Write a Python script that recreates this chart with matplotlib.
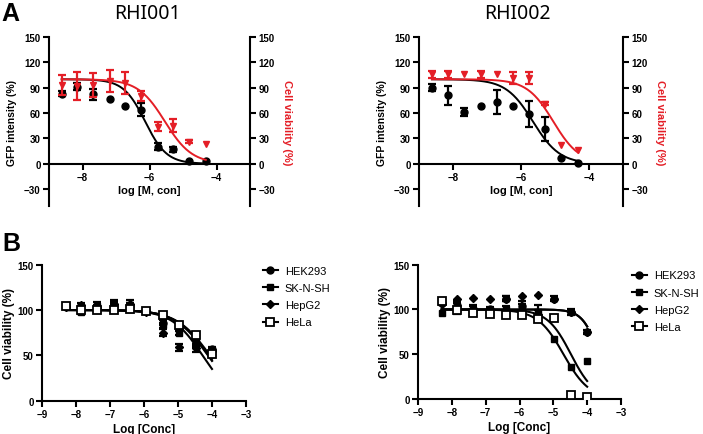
import numpy as np
import matplotlib
matplotlib.use("Agg")
import matplotlib.pyplot as plt
from matplotlib.lines import Line2D

plt.rcParams['font.family'] = ['Liberation Sans', 'DejaVu Sans']
plt.rcParams['font.weight'] = 'bold'
plt.rcParams['axes.labelweight'] = 'bold'

RED = '#e41e26'

# panel A: log concentration (3-fold dilution series)
x_a = np.array([-8.62, -8.15, -7.68, -7.19, -6.72, -6.24, -5.76, -5.29, -4.81, -4.32])

gfp_001 = np.array([83, 91, 82, 77, 68, 64, 20, 17, 3, 3])
gfp_001_err = np.array([3, 4, 6, 0, 0, 8, 4, 3, 0, 0])
via_001 = np.array([93, 92, 93, 98, 95, 80, 44, 45, 26, 23])
via_001_err = np.array([12, 16, 14, 13, 13, 6, 5, 8, 2, 0])

gfp_002 = np.array([90, 81, 61, 68, 73, 68, 59, 41, 7, 1])
gfp_002_err = np.array([4, 11, 5, 0, 14, 0, 15, 14, 0, 0])
via_002 = np.array([106, 106, 106, 106, 106, 101, 101, 71, 22, 16])
via_002_err = np.array([4, 4, 0, 4, 0, 7, 7, 2, 0, 0])

# fitted curves: top, bottom, logIC50, hill slope
fit_gfp_001 = (100, 0, -6.13, 1.35)
fit_via_001 = (100, 0, -5.54, 1.08)
fit_gfp_002 = (100, 0, -5.65, 1.1)
fit_via_002 = (100, 0, -5.05, 1.13)

# panel B
x_b = np.array([-8.30, -7.84, -7.37, -6.88, -6.40, -5.93, -5.44, -4.97, -4.48, -4.00])
cells = ['HEK293', 'SK-N-SH', 'HepG2', 'HeLa']

b1_vals = {
    'HEK293': [105, 100, 103, 104, 104, 99, 86, 80, 63, 57],
    'SK-N-SH': [104, 98, 105, 104, 103, 99, 83, 75, 65, 52],
    'HepG2': [103, 106, 101, 107, 107, 98, 75, 59, 58, 55],
    'HeLa': [104, 100, 100, 100, 101, 99, 94, 84, 72, 51],
}
b1_err = {
    'HEK293': [2, 2, 3, 3, 4, 2, 3, 3, 4, 2],
    'SK-N-SH': [3, 2, 4, 5, 5, 2, 3, 3, 4, 2],
    'HepG2': [2, 2, 4, 4, 4, 2, 4, 4, 4, 2],
    'HeLa': [2, 2, 2, 3, 3, 2, 2, 2, 3, 3],
}
b1_fit = {
    'HEK293': (100, 0, -4.06, 0.88),
    'SK-N-SH': (100, 0, -4.10, 0.9),
    'HepG2': (100, 0, -4.28, 0.96),
    'HeLa': (100, 0, -4.12, 0.9),
}

b2_vals = {
    'HEK293': [107, 105, 101, 100, 112, 104, 94, 112, 97, 75],
    'SK-N-SH': [96, 101, 99, 97, 100, 102, 97, 67, 36, 42],
    'HepG2': [106, 112, 113, 112, 112, 115, 116, 112, 97, 75],
    'HeLa': [110, 99, 96, 95, 94, 94, 89, 90, 4, 2],
}
b2_err = {
    'HEK293': [2, 4, 4, 3, 3, 5, 5, 3, 3, 2],
    'SK-N-SH': [0, 6, 5, 4, 4, 4, 8, 0, 0, 0],
    'HepG2': [0, 0, 0, 0, 3, 0, 0, 0, 0, 0],
    'HeLa': [0, 0, 0, 0, 0, 0, 0, 0, 0, 0],
}
b2_fit = {
    'HEK293': (100, 0, -3.65, 1.8),
    'SK-N-SH': (100, 0, -4.70, 1.14),
    'HepG2': (100, 0, -3.65, 1.8),
    'HeLa': (100, 0, -4.48, 1.25),
}

markers = {
    'HEK293': dict(marker='o', ms=5, mfc='black'),
    'SK-N-SH': dict(marker='s', ms=5, mfc='black'),
    'HepG2': dict(marker='D', ms=4, mfc='black'),
    'HeLa': dict(marker='s', ms=6, mfc='white', mew=1.3),
}


def hill(x, top, bottom, logic50, slope):
    return bottom + (top - bottom) / (1 + 10 ** ((x - logic50) * slope))


def points(ax, x, y, err, color, **kw):
    x = np.asarray(x); y = np.asarray(y); err = np.asarray(err)
    m = err > 0
    ax.errorbar(x[m], y[m], yerr=err[m], fmt='none', ecolor=color,
                elinewidth=1.6, capsize=3, capthick=1.6, zorder=3)
    ax.plot(x, y, ls='none', color=color, mec=color, zorder=4, **kw)


def style_ticks(ax):
    ax.tick_params(direction='out', length=4, width=1.5, labelsize=7, pad=2)


def panel_a(rect, title, title_x, gfp, gfp_err, via, via_err, fit_g, fit_v):
    ax = fig.add_axes(rect)
    ax2 = ax.twinx()
    xs = np.linspace(x_a.min(), x_a.max(), 200)

    ax.plot(xs, hill(xs, *fit_g), color='black', lw=1.4, zorder=2)
    points(ax, x_a, gfp, gfp_err, 'black', marker='o', ms=5)
    ax2.plot(xs, hill(xs, *fit_v), color=RED, lw=1.4, zorder=2)
    points(ax2, x_a, via, via_err, RED, marker='v', ms=5)

    for a in (ax, ax2):
        a.set_xlim(-9, -3)
        a.set_ylim(-50, 150)
        a.set_yticks([-30, 0, 30, 60, 90, 120, 150])
        a.spines['top'].set_visible(False)
        style_ticks(a)
    ax.set_xticks([-8, -6, -4])
    ax.spines['right'].set_visible(False)
    ax.spines['bottom'].set_position(('data', 0))
    ax.spines['left'].set_linewidth(1.5)
    ax.spines['bottom'].set_linewidth(1.5)
    ax2.spines['left'].set_visible(False)
    ax2.spines['bottom'].set_visible(False)
    ax2.spines['right'].set_linewidth(1.5)
    ax.set_xlabel('log [M, con]', fontsize=8, labelpad=2)
    ax.set_ylabel('GFP intensity (%)', fontsize=7.5, labelpad=5)
    ax2.set_ylabel('Cell viability (%)', fontsize=8, color=RED, rotation=270,
                   labelpad=12)
    fig.text(title_x, 1 - 14 / 435, title, ha='center', va='center',
             fontsize=14, fontweight='normal', family='Noto Sans')


def panel_b(rect, vals, errs, fits, leg_anchor):
    ax = fig.add_axes(rect)
    xs = np.linspace(x_b.min(), x_b.max(), 200)
    for c in cells:
        ax.plot(xs, hill(xs, *fits[c]), color='black', lw=1.5, zorder=2)
    for c in cells:
        points(ax, x_b, vals[c], errs[c], 'black', **markers[c])
    ax.set_xlim(-9, -3)
    ax.set_ylim(0, 150)
    ax.set_xticks(range(-9, -2))
    ax.set_yticks([0, 50, 100, 150])
    ax.spines['top'].set_visible(False)
    ax.spines['right'].set_visible(False)
    ax.spines['left'].set_linewidth(1.5)
    ax.spines['bottom'].set_linewidth(1.5)
    style_ticks(ax)
    ax.set_xlabel('Log [Conc]', fontsize=8.5, labelpad=3)
    ax.set_ylabel('Cell viability (%)', fontsize=8.5, labelpad=2)
    handles = [Line2D([], [], color='black', lw=1.5, mec='black', **markers[c])
               for c in cells]
    ax.legend(handles, cells, loc='upper left', bbox_to_anchor=leg_anchor,
              frameon=False, borderaxespad=0, handlelength=1.4,
              handletextpad=0.6, labelspacing=0.65,
              prop={'weight': 'normal', 'size': 8})


fig = plt.figure(figsize=(7.03, 4.35), dpi=100)

panel_a([49 / 703, 1 - 207 / 435, 201 / 703, 169 / 435], 'RHI001', 147 / 703,
        gfp_001, gfp_001_err, via_001, via_001_err, fit_gfp_001, fit_via_001)
panel_a([419 / 703, 1 - 207 / 435, 204 / 703, 169 / 435], 'RHI002', 517 / 703,
        gfp_002, gfp_002_err, via_002, via_002_err, fit_gfp_002, fit_via_002)

panel_b([42 / 703, 1 - 401.7 / 435, 204 / 703, 136 / 435],
        b1_vals, b1_err, b1_fit, (1.06, 1.025))
panel_b([418 / 703, 1 - 400 / 435, 203 / 703, 134.3 / 435],
        b2_vals, b2_err, b2_fit, (1.03, 0.99))

fig.text(0.002, 1 - 2 / 435, 'A', fontsize=18, fontweight='bold', va='top')
fig.text(0.004, 1 - 232 / 435, 'B', fontsize=18, fontweight='bold', va='top')

fig.savefig('out.png', dpi=100)
